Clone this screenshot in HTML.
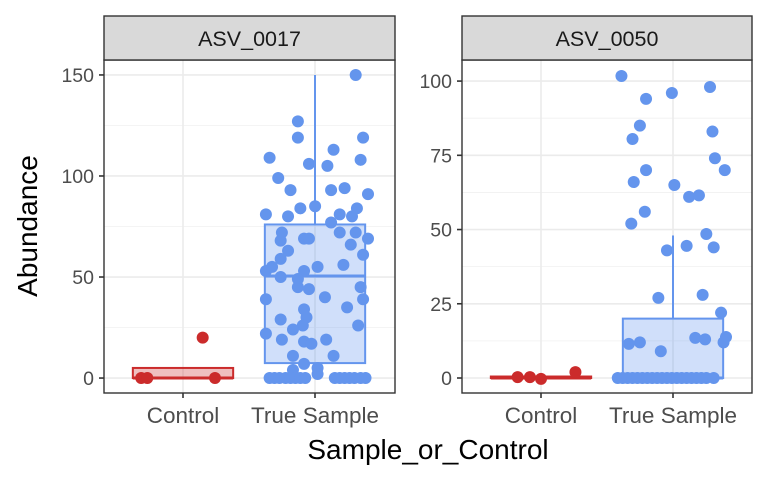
<!DOCTYPE html>
<html><head><meta charset="utf-8"><style>
body{margin:0;background:#fff}
svg{display:block;font-family:"Liberation Sans",sans-serif}
</style></head><body>
<svg id="c" width="768" height="480" xmlns="http://www.w3.org/2000/svg"></svg>
<script>
const categories = ["Control","True Sample"];
const facets = ["ASV_0017","ASV_0050"];
// ASV_0017 data
const p1ControlVals = [0,0,20,0];
const p1ControlJit = [-0.34,-0.29,0.16,0.26];
const p1TrueVals = [150,127,119,119,109,113,108,106,105,99,93,93,94,91,81,80,84,85,81,80,84,77,72,72,72,69,69,69,68,66,63,61,59,56,53,55,50,53,55,49,45,44,45,40,39,39,35,34,30,29,26,24,26,22,19,18,17,19,11,11,7,5,4,2,0,0,0,0,0,0,0,0,0,0,0,0,0,0,0];
const p1TrueJit = [0.4,-0.07,-0.07,0.46,-0.3,0.22,0.44,0.02,0.17,-0.23,-0.13,0.2,0.31,0.5,-0.33,-0.15,-0.05,0.07,0.27,0.37,0.41,0.2,-0.2,0.27,0.4,0.5,-0.02,0.02,-0.21,0.36,-0.15,0.46,-0.21,0.3,-0.33,-0.28,-0.21,-0.02,0.09,-0.07,-0.07,0.02,0.44,0.15,-0.33,0.46,0.33,-0.02,0,-0.21,-0.03,-0.11,0.42,-0.33,-0.2,-0.02,0.04,0.16,-0.11,0.22,-0.02,0.09,-0.11,0.09,-0.3,-0.26,-0.22,-0.17,-0.13,-0.09,-0.05,-0.01,0.23,0.27,0.31,0.35,0.39,0.44,0.48];
const p1ControlBox = {q1:0,med:0,q3:5,lo:0,hi:5};
const p1TrueBox = {q1:7.4,med:50.5,q3:76,lo:0,hi:150};
// ASV_0050 data
const p2ControlVals = [0.3,0.3,-0.3,2];
const p2ControlJit = [-0.19,-0.09,0,0.28];
const p2TrueVals = [101.7,94,96,98,85,80.5,83,74,70,70,66,65,61,61.5,56,52,48.5,44.5,44,43,27,28,22,11.5,12,9,13.5,13,13.8,12,0,0,0,0,0,0,0,0,0,0,0,0,0,0,0,0,0,0,0,0];
const p2TrueJit = [-0.35,-0.15,0.06,0.37,-0.2,-0.26,0.39,0.41,0.49,-0.15,-0.25,0.08,0.2,0.28,-0.16,-0.27,0.34,0.18,0.4,0.02,-0.05,0.31,0.46,-0.29,-0.2,-0.03,0.25,0.33,0.5,0.48,-0.38,-0.34,-0.3,-0.26,-0.22,-0.18,-0.14,-0.1,-0.06,-0.02,0.02,0.06,0.1,0.14,0.18,0.22,0.26,0.3,0.34,0.4];
const p2ControlBox = {q1:0,med:0,q3:0.5,lo:0,hi:0.5};
const p2TrueBox = {q1:0,med:0,q3:20,lo:0,hi:48};
const p1Ticks = [0,50,100,150];
const p2Ticks = [0,25,50,75,100];

const svg=document.getElementById('c');
const NS='http://www.w3.org/2000/svg';
function el(t,a,p){const e=document.createElementNS(NS,t);for(const k in a)e.setAttribute(k,a[k]);(p||svg).appendChild(e);return e;}
const RED='#CB2B2B',BLUE='#6495ED';
const panels=[
 {x0:104,x1:395,min:-7.4,max:157.4,ticks:p1Ticks,minor:[25,75,125],title:facets[0],
  groups:[[p1ControlVals,p1ControlJit,p1ControlBox,RED],[p1TrueVals,p1TrueJit,p1TrueBox,BLUE]]},
 {x0:462,x1:752,min:-5.05,max:107.1,ticks:p2Ticks,minor:[12.5,37.5,62.5,87.5],title:facets[1],
  groups:[[p2ControlVals,p2ControlJit,p2ControlBox,RED],[p2TrueVals,p2TrueJit,p2TrueBox,BLUE]]}
];
const Y0=60,Y1=393;
panels.forEach((P,pi)=>{
 const g=el('g',{});
 
 
 const W=P.x1-P.x0, unit=132;
 const xs=i=>P.x0+79+i*unit;
 const ys=v=>Y1-(v-P.min)/(P.max-P.min)*(Y1-Y0);
 P.minor.forEach(v=>el('line',{x1:P.x0,x2:P.x1,y1:ys(v),y2:ys(v),stroke:'#f0f0f0','stroke-width':0.8},g));
 P.ticks.forEach(v=>{el('line',{x1:P.x0,x2:P.x1,y1:ys(v),y2:ys(v),stroke:'#ebebeb','stroke-width':1.6},g);
  const t=el('text',{x:P.x0-10,y:ys(v)+7,'text-anchor':'end','font-size':19.5,fill:'#4d4d4d'});t.textContent=v;
  
  el('line',{x1:P.x0-5,x2:P.x0,y1:ys(v),y2:ys(v),stroke:'#333','stroke-width':1.6});});
 categories.forEach((c,i)=>{el('line',{x1:xs(i),x2:xs(i),y1:Y0,y2:Y1,stroke:'#ebebeb','stroke-width':1.6},g);
  const t=el('text',{x:xs(i),y:423,'text-anchor':'middle','font-size':22.5,fill:'#4d4d4d'});t.textContent=c;
  
  el('line',{x1:xs(i),x2:xs(i),y1:Y1,y2:Y1+5,stroke:'#333','stroke-width':1.6});});
 P.groups.forEach(([vals,jit,b,col],i)=>{
  const cx=xs(i),hw=0.38*unit;
  const jx=i===0?cx:cx-8.5;
  el('line',{x1:cx,x2:cx,y1:ys(b.hi),y2:ys(b.q3),stroke:col,'stroke-width':2},g);
  el('line',{x1:cx,x2:cx,y1:ys(b.q1),y2:ys(b.lo),stroke:col,'stroke-width':2},g);
  const r=el('rect',{x:cx-hw,y:ys(b.q3),width:2*hw,height:Math.max(ys(b.q1)-ys(b.q3),0.5),fill:col,'fill-opacity':0.3,stroke:col,'stroke-width':2},g);
  
  
  el('line',{x1:cx-hw,x2:cx+hw,y1:ys(b.med),y2:ys(b.med),stroke:col,'stroke-width':3},g);
  vals.forEach((v,k)=>{const c=el('circle',{cx:jx+jit[k]*123,cy:ys(v),r:6,fill:col},g);
   
   });
 });
 el('rect',{x:P.x0,y:Y0,width:W,height:Y1-Y0,fill:'none',stroke:'#333','stroke-width':1.4},g);
 const s=el('rect',{x:P.x0,y:16,width:W,height:Y0-16,fill:'#d9d9d9',stroke:'#333','stroke-width':1.4},g);
 
 const st=el('text',{x:(P.x0+P.x1)/2,y:46,'text-anchor':'middle','font-size':21.5,fill:'#1a1a1a'},g);st.textContent=P.title;
 
});
const yt=el('text',{x:0,y:0,transform:'translate(37,226) rotate(-90)','text-anchor':'middle','font-size':28,fill:'#000'});yt.textContent='Abundance';

const xt=el('text',{x:428,y:459,'text-anchor':'middle','font-size':28,fill:'#000'});xt.textContent='Sample_or_Control';

</script>
</body></html>
